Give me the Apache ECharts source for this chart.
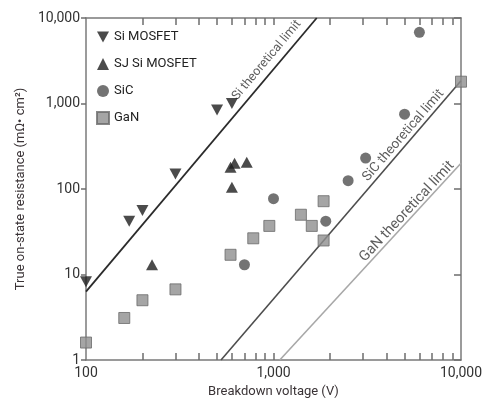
<!DOCTYPE html>
<html>
<head>
<meta charset="utf-8">
<script src="https://cdn.jsdelivr.net/npm/echarts@6/dist/echarts.min.js"></script>
<style>
html, body { margin: 0; padding: 0; background: #fff; }
#chart { width: 486px; height: 403px; }
</style>
</head>
<body>
<div id="chart"></div>
<script>
// breakdown voltage (V) / on-state resistance (mOhm cm2)
var siMosfetV = [100, 170, 200, 300, 500, 600];
var siMosfetR = [8.2, 42, 56, 150, 840, 1000];

var sjMosfetV = [225, 600, 590, 620, 720];
var sjMosfetR = [13, 105, 180, 200, 205];

var sicV = [700, 1000, 1900, 2500, 3100, 5000, 6000];
var sicR = [13, 77, 42, 125, 230, 750, 6800];

var ganV = [100, 160, 200, 300, 590, 780, 950, 1400, 1600, 1850, 1850, 10000];
var ganR = [1.6, 3.1, 5.0, 6.7, 17, 26.5, 37, 50, 37, 72, 25, 1800];

// theoretical limit lines (end points)
var siLimitV = [100, 1700];
var siLimitR = [6.3, 10000];
var sicLimitV = [525, 10000];
var sicLimitR = [1, 1850];
var ganLimitV = [1080, 10000];
var ganLimitR = [1, 200];

var limitNames = ['Si theoretical limit', 'SiC theoretical limit', 'GaN theoretical limit'];

var xTickValues = [200, 300, 400, 500, 600, 700, 800, 900, 1000,
    2000, 3000, 4000, 5000, 6000, 7000, 8000, 9000];

function pairs(xs, ys) {
    return xs.map(function (x, i) { return [x, ys[i]]; });
}
// point at fraction t along a line that is straight on log-log axes
function along(xs, ys, t) {
    var lx = Math.log10(xs[0]) + t * (Math.log10(xs[1]) - Math.log10(xs[0]));
    var ly = Math.log10(ys[0]) + t * (Math.log10(ys[1]) - Math.log10(ys[0]));
    return [Math.pow(10, lx), Math.pow(10, ly)];
}

var FONT = 'Roboto, "Noto Sans", sans-serif';
var AXIS_GREY = '#7a7a7a';
var TICK_GREY = '#6e6e6e';
function frameLine(show) {
    return { show: show, lineStyle: { color: AXIS_GREY, width: 1.5 } };
}
function tickStyle() {
    return { color: TICK_GREY, width: 1.5 };
}
var downTri = 'path://M0,0 L10,0 L5,9 Z';
var gridBox = { left: 86, right: 25, top: 18, bottom: 43 };
var chart = echarts.init(document.getElementById('chart'));

// second grid on the same box only carries the extra tick marks
function tickAxis(pos, withLine) {
    return {
        type: 'value', gridIndex: 1, min: 2, max: 4, position: pos,
        axisLine: frameLine(withLine),
        axisLabel: { show: true, formatter: function () { return ''; } },
        splitLine: { show: false },
        axisTick: {
            show: true, inside: true, length: 7,
            customValues: xTickValues.map(Math.log10),
            lineStyle: tickStyle()
        }
    };
}

var option = {
    animation: false,
    backgroundColor: '#fff',
    textStyle: { fontFamily: FONT },
    grid: [
        Object.assign({}, gridBox),
        Object.assign({}, gridBox)
    ],
    legend: {
        data: ['Si MOSFET', 'SJ Si MOSFET', 'SiC', 'GaN'],
        orient: 'vertical',
        left: 91, top: 25,
        itemWidth: 12, itemHeight: 12, itemGap: 13,
        textStyle: { fontSize: 13, color: '#222', lineHeight: 14 }
    },
    xAxis: [
        {
            type: 'log', logBase: 10, min: 100, max: 10000, gridIndex: 0,
            name: 'Breakdown voltage (V)', nameLocation: 'middle', nameGap: 25,
            nameTextStyle: { fontSize: 13, color: '#3a3336' },
            axisLine: frameLine(true),
            axisTick: { show: false },
            splitLine: { show: false },
            axisLabel: {
                margin: 6, fontSize: 14, color: '#333',
                formatter: function (v) { return v.toLocaleString('en-US'); }
            }
        },
        tickAxis('bottom', false),
        tickAxis('top', true)
    ],
    yAxis: [
        {
            type: 'log', logBase: 10, min: 1, max: 10000, gridIndex: 0,
            name: 'True on-state resistance (m\u03A9\u2022 cm\u00B2)', nameLocation: 'middle', nameGap: 56,
            nameTextStyle: { fontSize: 13, color: '#3a3336' },
            axisLine: frameLine(true),
            axisTick: { show: true, length: 5, lineStyle: tickStyle() },
            splitLine: { show: false },
            axisLabel: {
                margin: 6, fontSize: 14, color: '#333',
                formatter: function (v) { return v.toLocaleString('en-US'); }
            }
        },
        {
            type: 'log', logBase: 10, min: 1, max: 10000, gridIndex: 1, position: 'right',
            axisLine: frameLine(true),
            axisLabel: { show: true, formatter: function () { return ''; } },
            splitLine: { show: false },
            axisTick: { show: true, inside: true, length: 7, lineStyle: tickStyle() }
        }
    ],
    series: [
        {
            name: 'Si limit', type: 'line', data: pairs(siLimitV, siLimitR),
            showSymbol: false, silent: true, z: 1,
            lineStyle: { color: '#2b2b2b', width: 1.8 }
        },
        {
            name: 'SiC limit', type: 'line', data: pairs(sicLimitV, sicLimitR),
            showSymbol: false, silent: true, z: 1,
            lineStyle: { color: '#4d4d4d', width: 1.6 }
        },
        {
            name: 'GaN limit', type: 'line', data: pairs(ganLimitV, ganLimitR),
            showSymbol: false, silent: true, z: 1,
            lineStyle: { color: '#a8a8a8', width: 1.6 }
        },
        {
            name: 'limit labels', type: 'scatter', symbolSize: 0, silent: true, z: 2,
            data: [
                { name: limitNames[0], value: along(siLimitV, siLimitR, 0.82), label: { rotate: 50, fontSize: 12.5, offset: [0, -11] } },
                { name: limitNames[1], value: along(sicLimitV, sicLimitR, 0.785), label: { rotate: 49, fontSize: 13.5, offset: [0, -8] } },
                { name: limitNames[2], value: along(ganLimitV, ganLimitR, 0.73), label: { rotate: 47, fontSize: 14.5, offset: [0, -7] } }
            ],
            label: {
                show: true, position: 'inside', formatter: '{b}',
                color: '#333', fontFamily: FONT
            }
        },
        {
            name: 'Si MOSFET', type: 'scatter', data: pairs(siMosfetV, siMosfetR),
            symbol: downTri, symbolSize: [12, 11], z: 5,
            itemStyle: { color: '#1e1e1e' }
        },
        {
            name: 'SJ Si MOSFET', type: 'scatter', data: pairs(sjMosfetV, sjMosfetR),
            symbol: 'triangle', symbolSize: [12, 11], z: 5,
            itemStyle: { color: '#1e1e1e' }
        },
        {
            name: 'SiC', type: 'scatter', data: pairs(sicV, sicR),
            symbol: 'circle', symbolSize: 11, z: 5,
            itemStyle: { color: '#505050' }
        },
        {
            name: 'GaN', type: 'scatter', data: pairs(ganV, ganR),
            symbol: 'rect', symbolSize: 11, z: 5,
            itemStyle: { color: '#8e8e8e', borderColor: '#6a6a6a', borderWidth: 1 }
        }
    ]
};

chart.setOption(option);
</script>
</body>
</html>
